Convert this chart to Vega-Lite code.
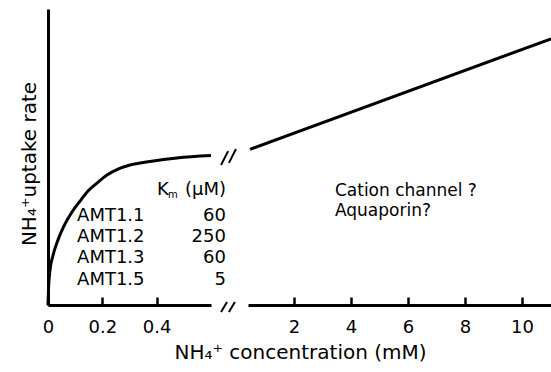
{
  "$schema": "https://vega.github.io/schema/vega-lite/v6.json",
  "background": "white",
  "padding": {"left": 19, "top": 9, "right": 0, "bottom": 0},
  "bounds": "flush",
  "spacing": 37,
  "config": {
    "view": {"stroke": null},
    "font": "DejaVu Sans",
    "axis": {
      "grid": false,
      "domainColor": "black",
      "domainWidth": 3,
      "tickColor": "black",
      "tickWidth": 2.5,
      "labelColor": "black",
      "titleColor": "black",
      "labelFont": "DejaVu Sans",
      "titleFont": "DejaVu Sans",
      "labelFontSize": 18,
      "titleFontSize": 20,
      "titleFontWeight": "normal"
    }
  },
  "datasets": {
    "curve": [
      {"conc": 0, "rate": 0},
      {"conc": 0.0018, "rate": 5.1},
      {"conc": 0.0074, "rate": 11.8},
      {"conc": 0.018, "rate": 16.6},
      {"conc": 0.0368, "rate": 22.0},
      {"conc": 0.0589, "rate": 26.7},
      {"conc": 0.0883, "rate": 31.4},
      {"conc": 0.1178, "rate": 35.1},
      {"conc": 0.1472, "rate": 38.5},
      {"conc": 0.1804, "rate": 41.2},
      {"conc": 0.2172, "rate": 43.9},
      {"conc": 0.2577, "rate": 45.9},
      {"conc": 0.3018, "rate": 47.3},
      {"conc": 0.3755, "rate": 48.5},
      {"conc": 0.4748, "rate": 49.7},
      {"conc": 0.6, "rate": 50.5}
    ],
    "linear": [
      {"conc": 0.46, "rate": 52.6},
      {"conc": 11.02, "rate": 89.9}
    ],
    "breaks": [
      {"conc": 0.637, "conc2": 0.663, "rate": 47.3, "rate2": 52.0},
      {"conc": 0.666, "conc2": 0.692, "rate": 48.0, "rate2": 52.7},
      {"conc": 0.637, "conc2": 0.659, "rate": -2.4, "rate2": 1.0},
      {"conc": 0.666, "conc2": 0.688, "rate": -2.4, "rate2": 1.0}
    ],
    "names": [
      {"label": "AMT1.1", "conc": 0.107, "rate": 30.2},
      {"label": "AMT1.2", "conc": 0.107, "rate": 23.1},
      {"label": "AMT1.3", "conc": 0.107, "rate": 15.9},
      {"label": "AMT1.5", "conc": 0.107, "rate": 8.4}
    ],
    "kms": [
      {"label": "(μM)", "conc": 0.655, "rate": 38.9},
      {"label": "60", "conc": 0.655, "rate": 30.2},
      {"label": "250", "conc": 0.655, "rate": 23.1},
      {"label": "60", "conc": 0.655, "rate": 15.9},
      {"label": "5", "conc": 0.655, "rate": 8.4}
    ],
    "kbig": [{"label": "K", "conc": 0.401, "rate": 38.9}],
    "ksub": [{"label": "m", "conc": 0.442, "rate": 37.2}],
    "notes": [
      {"label": "Cation channel ?", "conc": 3.44, "rate": 38.6},
      {"label": "Aquaporin?", "conc": 3.44, "rate": 31.8}
    ]
  },
  "hconcat": [
    {
      "width": 163,
      "height": 296,
      "layer": [
        {
          "data": {"name": "curve"},
          "mark": {"type": "line", "color": "black", "strokeWidth": 3, "interpolate": "monotone"},
          "encoding": {
            "x": {
              "field": "conc", "type": "quantitative",
              "scale": {"domain": [0, 0.6], "nice": false, "zero": false},
              "axis": {"values": [0, 0.2, 0.4], "format": "~g", "labelFlush": false, "title": null, "tickSize": -8, "labelPadding": 21}
            },
            "y": {
              "field": "rate", "type": "quantitative",
              "scale": {"domain": [0, 100], "nice": false},
              "axis": {"ticks": false, "labels": false, "title": "NH₄⁺uptake rate", "titleX": -13, "titleY": 154.5, "titleBaseline": "alphabetic", "titleAlign": "center", "titleAngle": -90}
            }
          }
        },
        {
          "data": {"name": "breaks"},
          "mark": {"type": "rule", "color": "black", "strokeWidth": 2},
          "encoding": {
            "x": {"field": "conc", "type": "quantitative"},
            "x2": {"field": "conc2"},
            "y": {"field": "rate", "type": "quantitative"},
            "y2": {"field": "rate2"}
          }
        },
        {
          "data": {"name": "names"},
          "mark": {"type": "text", "align": "left", "baseline": "middle", "fontSize": 18, "color": "black"},
          "encoding": {
            "x": {"field": "conc", "type": "quantitative"},
            "y": {"field": "rate", "type": "quantitative"},
            "text": {"field": "label"}
          }
        },
        {
          "data": {"name": "kms"},
          "mark": {"type": "text", "align": "right", "baseline": "middle", "fontSize": 18, "color": "black"},
          "encoding": {
            "x": {"field": "conc", "type": "quantitative"},
            "y": {"field": "rate", "type": "quantitative"},
            "text": {"field": "label"}
          }
        },
        {
          "data": {"name": "kbig"},
          "mark": {"type": "text", "align": "left", "baseline": "middle", "fontSize": 18, "color": "black"},
          "encoding": {
            "x": {"field": "conc", "type": "quantitative"},
            "y": {"field": "rate", "type": "quantitative"},
            "text": {"field": "label"}
          }
        },
        {
          "data": {"name": "ksub"},
          "mark": {"type": "text", "align": "left", "baseline": "middle", "fontSize": 10, "color": "black"},
          "encoding": {
            "x": {"field": "conc", "type": "quantitative"},
            "y": {"field": "rate", "type": "quantitative"},
            "text": {"field": "label"}
          }
        }
      ]
    },
    {
      "width": 303,
      "height": 296,
      "layer": [
        {
          "data": {"name": "linear"},
          "mark": {"type": "line", "color": "black", "strokeWidth": 3},
          "encoding": {
            "x": {
              "field": "conc", "type": "quantitative",
              "scale": {"domain": [0.39, 11.02], "nice": false, "zero": false},
              "axis": {"values": [2, 4, 6, 8, 10], "format": "d", "labelFlush": false, "tickSize": -8, "labelPadding": 21,
                       "title": "NH₄⁺ concentration (mM)", "titleX": 52, "titleY": 53, "titleAlign": "center", "titleBaseline": "alphabetic"}
            },
            "y": {
              "field": "rate", "type": "quantitative",
              "scale": {"domain": [0, 100], "nice": false},
              "axis": null
            }
          }
        },
        {
          "data": {"name": "notes"},
          "mark": {"type": "text", "align": "left", "baseline": "middle", "fontSize": 17, "color": "black"},
          "encoding": {
            "x": {"field": "conc", "type": "quantitative"},
            "y": {"field": "rate", "type": "quantitative"},
            "text": {"field": "label"}
          }
        }
      ]
    }
  ]
}
